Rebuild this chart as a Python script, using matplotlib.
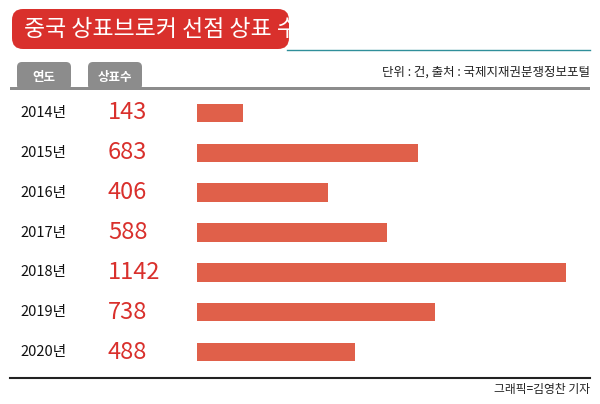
import matplotlib.pyplot as plt
from matplotlib.patches import FancyBboxPatch, Rectangle
from matplotlib.transforms import blended_transform_factory

plt.rcParams['font.family'] = 'Noto Sans CJK KR'

years = ['2014년', '2015년', '2016년', '2017년', '2018년', '2019년', '2020년']
counts = [143, 683, 406, 588, 1142, 738, 488]
title = '중국 상표브로커 선점 상표 수'
unit_note = '단위 : 건, 출처 : 국제지재권분쟁정보포털'
credit = '그래픽=김영찬 기자'

RED = '#d9302c'
BAR = '#e0604a'
W, H = 600, 404

fig = plt.figure(figsize=(6, 4.04), dpi=100)
bg = fig.add_axes([0, 0, 1, 1])
bg.set_xlim(0, W)
bg.set_ylim(H, 0)
bg.axis('off')

# title banner
bg.add_patch(FancyBboxPatch((12, 9), 277, 40, boxstyle='round,pad=0,rounding_size=11',
                            fc=RED, ec='none'))
bg.text(24, 29, title, color='white', fontsize=16.5, fontweight='medium', va='center')
bg.plot([287, 590], [50, 50], color='#2f8f9a', lw=1)

# header tabs
for x0, w, lab in [(17, 54, '연도'), (88, 54, '상표수')]:
    bg.add_patch(FancyBboxPatch((x0, 62), w, 28, boxstyle='round,pad=0,rounding_size=5',
                                fc='#8c8c8c', ec='none'))
    bg.text(x0 + w / 2, 77, lab, color='white', fontsize=9, fontweight='bold',
            ha='center', va='center')
bg.add_patch(Rectangle((10, 87), 580, 3, fc='#8c8c8c', ec='none'))
bg.text(590, 72, unit_note, fontsize=9, ha='right', va='center', color='#222222')

bg.plot([10, 590], [378, 378], color='#222222', lw=1.5)
bg.text(590, 390, credit, fontsize=8.5, ha='right', va='center', color='#222222')

# bars
ax = fig.add_axes([197 / W, 1 - 372 / H, (566 - 197) / W, (372 - 93) / H])
ax.barh(range(len(counts)), counts, height=0.46, color=BAR)
ax.set_xlim(0, max(counts))
ax.set_ylim(len(counts) - 0.5, -0.5)
ax.axis('off')

tr = blended_transform_factory(fig.transFigure, ax.transData)
for i, (yr, c) in enumerate(zip(years, counts)):
    ax.text(20 / W, i, yr, transform=tr, fontsize=10.5, fontweight='medium',
            va='center', color='#111111')
    ax.text(108 / W, i, str(c), transform=tr, fontsize=17, fontweight='medium',
            va='center', color=RED)

fig.savefig('out.png', dpi=100)
